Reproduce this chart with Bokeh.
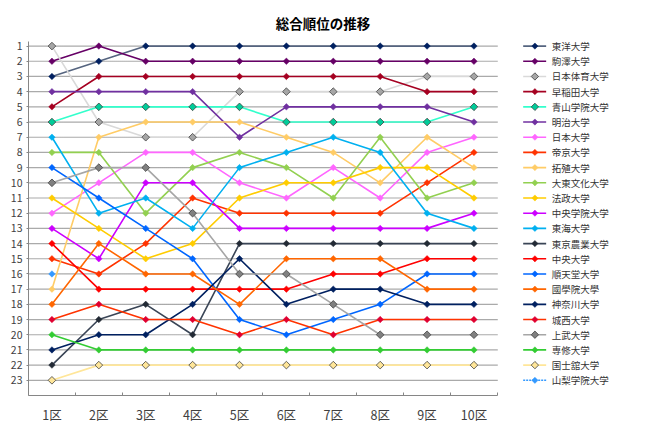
import numpy as np
from bokeh.plotting import figure
from bokeh.models import Range1d, FixedTicker
from bokeh.core.properties import value
from bokeh.embed import file_html
from bokeh.resources import INLINE

# ---------------- data ----------------
sections = ["1区", "2区", "3区", "4区", "5区", "6区", "7区", "8区", "9区", "10区"]
rank_ticks = list(range(1, 24))

teams = ["東洋大学", "駒澤大学", "日本体育大学", "早稲田大学", "青山学院大学", "明治大学",
         "日本大学", "帝京大学", "拓殖大学", "大東文化大学", "法政大学", "中央学院大学",
         "東海大学", "東京農業大学", "中央大学", "順天堂大学", "國學院大學", "神奈川大学",
         "城西大学", "上武大学", "専修大学", "国士舘大学", "山梨学院大学"]

rank_toyo = [3, 2, 1, 1, 1, 1, 1, 1, 1, 1]
rank_komazawa = [2, 1, 2, 2, 2, 2, 2, 2, 2, 2]
rank_nittai = [1, 6, 7, 7, 4, 4, 4, 4, 3, 3]
rank_waseda = [5, 3, 3, 3, 3, 3, 3, 3, 4, 4]
rank_aoyama = [6, 5, 5, 5, 5, 6, 6, 6, 6, 5]
rank_meiji = [4, 4, 4, 4, 7, 5, 5, 5, 5, 6]
rank_nihon = [12, 10, 8, 8, 10, 11, 9, 11, 8, 7]
rank_teikyo = [15, 16, 14, 11, 12, 12, 12, 12, 10, 8]
rank_takushoku = [17, 7, 6, 6, 6, 7, 8, 10, 7, 9]
rank_daito = [8, 8, 12, 9, 8, 9, 11, 7, 11, 10]
rank_hosei = [11, 13, 15, 14, 11, 10, 10, 9, 9, 11]
rank_chuogakuin = [13, 15, 10, 10, 13, 13, 13, 13, 13, 12]
rank_tokai = [7, 12, 11, 13, 9, 8, 7, 8, 12, 13]
rank_nodai = [22, 19, 18, 20, 14, 14, 14, 14, 14, 14]
rank_chuo = [14, 17, 17, 17, 17, 17, 16, 16, 15, 15]
rank_juntendo = [9, 11, 13, 15, 19, 20, 19, 18, 16, 16]
rank_kokugakuin = [18, 14, 16, 16, 18, 15, 15, 15, 17, 17]
rank_kanagawa = [21, 20, 20, 18, 15, 18, 17, 17, 18, 18]
rank_josai = [19, 18, 19, 19, 20, 19, 20, 19, 19, 19]
rank_jobu = [10, 9, 9, 12, 16, 16, 18, 20, 20, 20]
rank_senshu = [20, 21, 21, 21, 21, 21, 21, 21, 21, 21]
rank_kokushikan = [23, 22, 22, 22, 22, 22, 22, 22, 22, 22]
rank_yamanashi = [16, None, None, None, None, None, None, None, None, None]

all_ranks = [rank_toyo, rank_komazawa, rank_nittai, rank_waseda, rank_aoyama, rank_meiji,
             rank_nihon, rank_teikyo, rank_takushoku, rank_daito, rank_hosei, rank_chuogakuin,
             rank_tokai, rank_nodai, rank_chuo, rank_juntendo, rank_kokugakuin, rank_kanagawa,
             rank_josai, rank_jobu, rank_senshu, rank_kokushikan, rank_yamanashi]

# ---------------- styles ----------------
line_colors = ["#55647F", "#660066", "#D9D9D9", "#A50021", "#33FFCC", "#7030A0",
               "#FF66FF", "#FF3300", "#FFCC66", "#92D050", "#FFCC00", "#CC00FF",
               "#00B0F0", "#3A4556", "#FF0000", "#0066FF", "#FF6600", "#002060",
               "#FF3300", "#A6A6A6", "#33CC33", "#FFE699", "#3399FF"]
marker_fill = ["#002060", "#660066", "#A6A6A6", "#A50021", "#00CC99", "#7030A0",
               "#FF66FF", "#FF3300", "#FFCC66", "#92D050", "#FFCC00", "#CC00FF",
               "#00B0F0", "#222A35", "#FF0000", "#0066FF", "#FF6600", "#002060",
               "#E00030", "#808080", "#33CC33", "#FFE699", "#3399FF"]
outlined = {"日本体育大学", "青山学院大学", "上武大学", "国士舘大学"}

FONT = "Noto Sans CJK JP"

p = figure(width=646, height=431, output_backend="svg", toolbar_location=None,
           x_range=Range1d(0.5, 13.68), y_range=Range1d(24, -2.0),
           min_border_left=28, min_border_right=0, min_border_top=0, min_border_bottom=36)
p.outline_line_color = None
p.grid.visible = False
p.background_fill_color = "white"

# horizontal dotted grid lines (only over the chart area)
p.segment(x0=[0.5] * len(rank_ticks), x1=[10.5] * len(rank_ticks),
          y0=rank_ticks, y1=rank_ticks,
          line_color="#555555", line_dash="1 1", line_width=1.2)

xs = list(range(1, len(sections) + 1))
for name, ranks, lc, mf in zip(teams, all_ranks, line_colors, marker_fill):
    ys = [np.nan if r is None else r for r in ranks]
    p.line(xs, ys, line_color=lc, line_width=1.6)
    if name in outlined:
        p.scatter(xs, ys, marker="square", angle=np.pi / 4, size=5.4,
                  fill_color=mf, line_color="#404040", line_width=0.8)
    else:
        p.scatter(xs, ys, marker="square", angle=np.pi / 4, size=4.6,
                  fill_color=mf, line_color=mf, line_width=0.5)

# legend, one row per grid rank
for i, (name, lc, mf) in enumerate(zip(teams, line_colors, marker_fill)):
    yy = i + 1
    dash = "2 1" if name == "山梨学院大学" else "solid"
    p.line([11.05, 11.54], [yy, yy], line_color=lc, line_width=1.6, line_dash=dash)
    if name in outlined:
        p.scatter([11.30], [yy], marker="square", angle=np.pi / 4, size=5.2,
                  fill_color=mf, line_color="#404040", line_width=0.8)
    else:
        p.scatter([11.30], [yy], marker="square", angle=np.pi / 4, size=4.4,
                  fill_color=mf, line_color=mf, line_width=0.5)
p.text(x=[11.66] * len(teams), y=[i + 1 for i in range(len(teams))], text=teams,
       text_font=value(FONT), text_font_size="9.5px", text_color="#333333",
       text_baseline="middle", text_align="left")

# title
p.text(x=[6.78], y=[-0.55], text=["総合順位の推移"], text_font=value(FONT),
       text_font_size="13.5px", text_font_style="bold", text_color="#000000",
       text_align="center", text_baseline="middle")

# axes
xa = p.xaxis[0]
xa.ticker = FixedTicker(ticks=xs, minor_ticks=[x - 0.5 for x in xs] + [xs[-1] + 0.5])
xa.major_label_overrides = {x: s for x, s in zip(xs, sections)}
xa.bounds = (0.5, 10.5)
xa.axis_line_color = "#868686"
xa.major_tick_out = 0
xa.major_tick_in = 0
xa.minor_tick_in = 3
xa.minor_tick_out = 0
xa.minor_tick_line_color = "#868686"
xa.major_label_text_font = FONT
xa.major_label_text_font_size = "12.5px"
xa.major_label_text_color = "#404040"
xa.major_label_standoff = 9

ya = p.yaxis[0]
ya.ticker = FixedTicker(ticks=rank_ticks, minor_ticks=[])
ya.bounds = (0.72, 24)
ya.axis_line_color = "#868686"
ya.major_tick_out = 2
ya.major_tick_in = 0
ya.major_tick_line_color = "#868686"
ya.minor_tick_out = 0
ya.minor_tick_in = 0
ya.major_label_text_font = FONT
ya.major_label_text_font_size = "10.5px"
ya.major_label_text_color = "#404040"
ya.major_label_standoff = 4

open("out.html", "w").write(file_html(p, INLINE))
